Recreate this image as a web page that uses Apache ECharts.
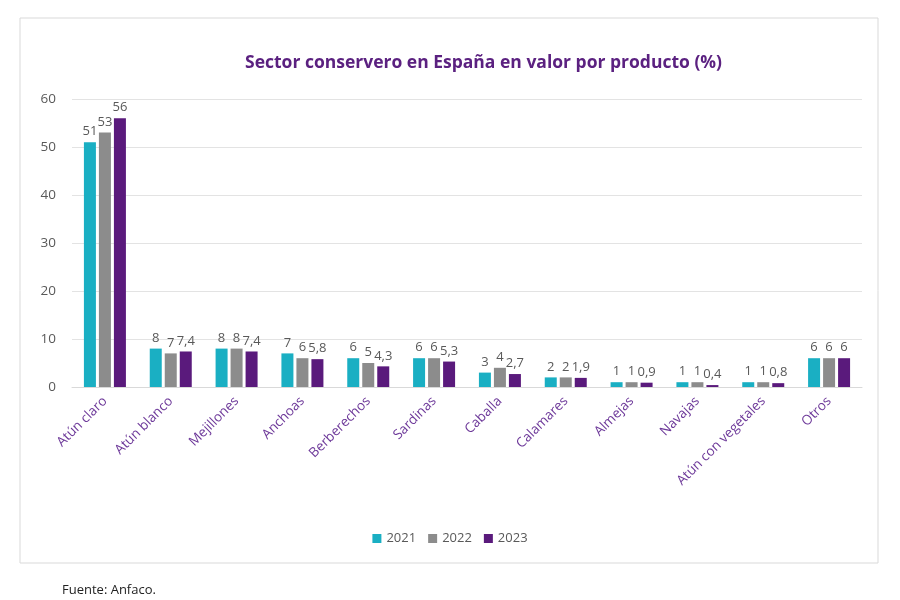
<!DOCTYPE html>
<html><head><meta charset="utf-8">
<script src="https://cdn.jsdelivr.net/npm/echarts@6/dist/echarts.min.js"></script>
<style>html,body{margin:0;padding:0;background:#fff}#c{width:900px;height:600px}</style>
</head><body><div id="c"></div>
<script>
var categories = ['Atún claro','Atún blanco','Mejillones','Anchoas','Berberechos','Sardinas','Caballa','Calamares','Almejas','Navajas','Atún con vegetales','Otros'];
var years = ['2021','2022','2023'];
var v2021 = [51, 8, 8, 7, 6, 6, 3, 2, 1, 1, 1, 6];
var v2022 = [53, 7, 8, 6, 5, 6, 4, 2, 1, 1, 1, 6];
var v2023 = [56, 7.4, 7.4, 5.8, 4.3, 5.3, 2.7, 1.9, 0.9, 0.4, 0.8, 6];
var yTicks = [0, 10, 20, 30, 40, 50, 60];
var colors = ['#1AAFC3', '#8C8C8C', '#5A1A7C'];
var font = '"Open Sans", "Noto Sans", sans-serif';

var chart = echarts.init(document.getElementById('c'));
function mk(name, data, color) {
  return {
    name: name, type: 'bar', data: data, barWidth: 12, barGap: '25%',
    itemStyle: { color: color },
    label: { show: true, position: 'top', distance: 4, color: '#595959', fontSize: 13, fontFamily: font,
      formatter: function (p) { return String(p.value).replace('.', ','); } }
  };
}
chart.setOption({
  animation: false,
  textStyle: { fontFamily: font },
  title: { text: 'Sector conservero en España en valor por producto (%)', left: 240, top: 49,
    textStyle: { color: '#5B2180', fontSize: 17.5, fontWeight: 'bold', fontFamily: font } },
  legend: { data: years, bottom: 50, left: 'center', itemWidth: 9, itemHeight: 9, itemGap: 12, icon: 'rect',
    textStyle: { color: '#595959', fontSize: 13, fontFamily: font } },
  grid: { left: 72, right: 38, top: 99, bottom: 213 },
  xAxis: { type: 'category', data: categories,
    axisLine: { lineStyle: { color: '#D9D9D9' } }, axisTick: { show: false },
    axisLabel: { rotate: 45, color: '#6E3A9A', fontSize: 13.5, fontFamily: font, margin: 12, interval: 0 } },
  yAxis: { type: 'value', min: yTicks[0], max: yTicks[yTicks.length - 1], interval: 10,
    axisLine: { show: false }, axisTick: { show: false },
    splitLine: { lineStyle: { color: '#E3E3E3' } },
    axisLabel: { color: '#595959', fontSize: 13.5, fontFamily: font, margin: 16 } },
  series: [mk(years[0], v2021, colors[0]), mk(years[1], v2022, colors[1]), mk(years[2], v2023, colors[2])],
  graphic: [
    { type: 'rect', shape: { x: 20, y: 18, width: 858, height: 545 }, style: { fill: 'none', stroke: '#D9D9D9', lineWidth: 1 }, z: -1 },
    { type: 'text', left: 62, top: 584, style: { text: 'Fuente: Anfaco.', fill: '#222', fontSize: 13, fontFamily: font } }
  ]
});
</script></body></html>
